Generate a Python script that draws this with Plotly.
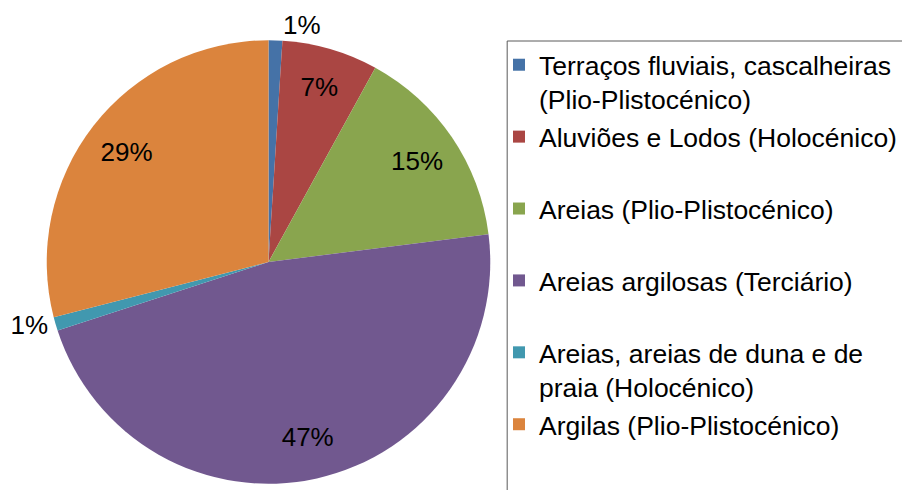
import plotly.graph_objects as go

# share of each geological unit (%)
labels = [
    "Terraços fluviais, cascalheiras<br>(Plio-Plistocénico)",
    "Aluviões e Lodos (Holocénico)<br>&nbsp;",
    "Areias (Plio-Plistocénico)<br>&nbsp;",
    "Areias argilosas (Terciário)<br>&nbsp;",
    "Areias, areias de duna e de<br>praia (Holocénico)",
    "Argilas (Plio-Plistocénico)<br>&nbsp;",
]
values = [1, 7, 15, 47, 1, 29]
colors = ["#4572A7", "#AA4643", "#89A54E", "#71588F", "#4198AF", "#DB843D"]
text_pos = ["outside", "inside", "inside", "inside", "outside", "inside"]

W, H = 902, 490
cx, cy, r = 270, 262, 223
FONT = "Liberation Sans, Arial, sans-serif"

dom = dict(x=[(cx - r) / W, (cx + r) / W], y=[1 - (cy + r) / H, 1 - (cy - r) / H])

fig = go.Figure()
# the slices and the legend
fig.add_trace(go.Pie(
    labels=labels,
    values=values,
    sort=False,
    direction="clockwise",
    marker=dict(colors=colors, line=dict(width=0)),
    textinfo="none",
    domain=dom,
    hoverinfo="label+percent",
))
# transparent ring on top, only to carry the percentage labels further out
fig.add_trace(go.Pie(
    labels=labels,
    values=values,
    sort=False,
    direction="clockwise",
    hole=0.62,
    marker=dict(colors=["rgba(0,0,0,0)"] * len(values), line=dict(width=0)),
    texttemplate="%{percent:.0%}",
    textposition=text_pos,
    insidetextorientation="horizontal",
    textfont=dict(size=26, color="black", family=FONT),
    outsidetextfont=dict(size=26, color="black", family=FONT),
    domain=dom,
    showlegend=False,
    hoverinfo="skip",
))

fig.update_layout(
    width=W, height=H,
    margin=dict(l=0, r=0, t=0, b=0),
    paper_bgcolor="white",
    font=dict(family=FONT, size=26, color="black"),
    showlegend=True,
    legend=dict(
        x=502 / W, y=1 - 41 / H, xanchor="left", yanchor="top",
        borderwidth=0, bgcolor="rgba(0,0,0,0)",
        font=dict(size=26.5, family=FONT),
        valign="top",
        itemclick=False,
    ),
    shapes=[dict(
        type="rect", xref="paper", yref="paper",
        x0=510 / W, x1=1.02, y0=-0.05, y1=1 - 41 / H,
        line=dict(color="#5a5a5a", width=1),
    )],
)

# page body has a default 8px margin; drop it so the figure fills the window
fig.write_html("out.html", config={"displayModeBar": False},
               post_script="document.body.style.margin='0';")
